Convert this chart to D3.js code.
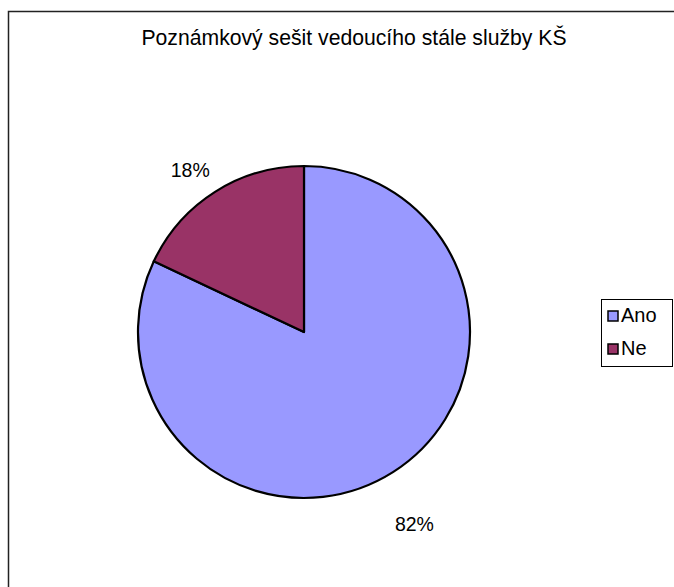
<!DOCTYPE html>
<html>
<head>
<meta charset="utf-8">
<script src="https://cdn.jsdelivr.net/npm/d3@7"></script>
<style>
  body { margin: 0; background: #fff; }
  text { font-family: "Liberation Sans", Arial, sans-serif; fill: #000; }
</style>
</head>
<body>
<div id="chart"></div>
<script>
const title = "Poznámkový sešit vedoucího stále služby KŠ";
const categories = ["Ano", "Ne"];
const values = [82, 18];
const colors = ["#9999FF", "#993366"];

const width = 674, height = 587;
const svg = d3.select("#chart").append("svg")
    .attr("width", width)
    .attr("height", height);

// rámeček grafu
svg.append("rect")
    .attr("x", 8.5).attr("y", 11.5)
    .attr("width", 700).attr("height", 700)
    .attr("fill", "#fff")
    .attr("stroke", "#222")
    .attr("stroke-width", 1.5);

svg.append("text")
    .attr("x", 354)
    .attr("y", 45)
    .attr("text-anchor", "middle")
    .style("font-size", "21.2px")
    .text(title);

const cx = 304, cy = 332, r = 166;
const data = categories.map((c, i) => ({ name: c, value: values[i], color: colors[i] }));

const pie = d3.pie().sort(null).value(d => d.value);
const arc = d3.arc().innerRadius(0).outerRadius(r);
const arcs = pie(data);

const g = svg.append("g").attr("transform", `translate(${cx},${cy})`);

g.selectAll("path")
    .data(arcs)
    .enter()
    .append("path")
    .attr("d", arc)
    .attr("fill", d => d.data.color)
    .attr("stroke", "#000")
    .attr("stroke-width", 2.2)
    .attr("stroke-linejoin", "round");

// popisky procent
const total = d3.sum(values);
g.selectAll("text.label")
    .data(arcs)
    .enter()
    .append("text")
    .attr("class", "label")
    .attr("text-anchor", "middle")
    .attr("dominant-baseline", "central")
    .style("font-size", "19.5px")
    .attr("transform", d => {
        const a = (d.startAngle + d.endAngle) / 2;
        const dx = Math.sin(a), dy = -Math.cos(a);
        const dist = r * 1.26 + 14 * dy;
        return `translate(${dx * dist - 8},${dy * dist + 5})`;
    })
    .text(d => Math.round(d.data.value / total * 100) + "%");

// legenda
const legend = svg.append("g").attr("transform", "translate(601,299)");
legend.append("rect")
    .attr("x", 0.5).attr("y", 0.5)
    .attr("width", 71).attr("height", 67)
    .attr("fill", "#fff")
    .attr("stroke", "#000")
    .attr("stroke-width", 1);

const item = legend.selectAll("g.item")
    .data(data)
    .enter()
    .append("g")
    .attr("class", "item")
    .attr("transform", (d, i) => `translate(0,${i * 33})`);

item.append("rect")
    .attr("x", 7).attr("y", 12)
    .attr("width", 10).attr("height", 10)
    .attr("fill", d => d.color)
    .attr("stroke", "#000")
    .attr("stroke-width", 1.5);

item.append("text")
    .attr("x", 20)
    .attr("y", 23)
    .style("font-size", "20px")
    .text(d => d.name);
</script>
</body>
</html>
